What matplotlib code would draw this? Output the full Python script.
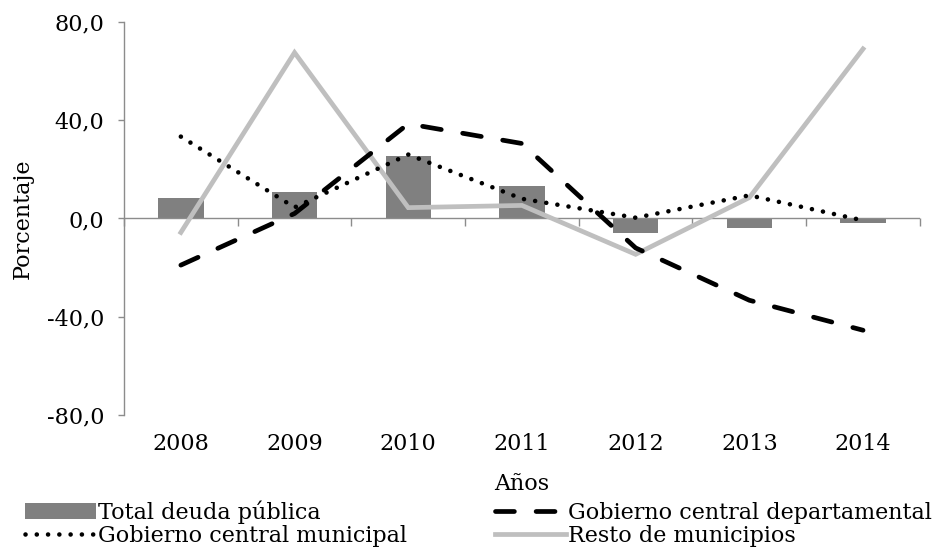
import matplotlib
matplotlib.use("Agg")
import matplotlib.pyplot as plt
from matplotlib.ticker import FuncFormatter
import numpy as np

# Datos (porcentaje)
anios = ["2008", "2009", "2010", "2011", "2012", "2013", "2014"]
total_deuda = [8.5, 10.6, 25.3, 13.4, -6.1, -3.7, -2.0]
gob_departamental = [-19.0, 2.0, 38.5, 30.5, -12.0, -33.3, -45.5]
gob_municipal = [33.3, 4.5, 26.0, 8.0, 0.3, 9.4, -0.8]
resto_municipios = [-5.7, 67.5, 4.4, 5.3, -14.6, 8.5, 69.0]

plt.rcParams["font.family"] = ["DejaVu Serif"]
plt.rcParams["font.size"] = 16

GRIS_EJE = "#8c8c8c"

fig = plt.figure(figsize=(9.43, 5.47), dpi=100)
ax = fig.add_axes([0.1315, 0.2413, 0.844, 0.7187])

x = np.arange(len(anios))
ax.bar(x, total_deuda, width=0.4, color="#808080", zorder=2,
       label="Total deuda pública")
ax.axhline(0, color=GRIS_EJE, lw=1.0, zorder=2.5)
ax.plot(x, resto_municipios, color="#bfbfbf", lw=3.4, zorder=3,
        solid_joinstyle="miter", label="Resto de municipios")
ax.plot(x, gob_departamental, color="black", lw=3.4, zorder=4,
        linestyle=(0, (4.0, 4.6)), dash_capstyle="round",
        label="Gobierno central departamental")
ax.plot(x, gob_municipal, color="black", lw=3.3, zorder=5,
        linestyle=(0, (0.01, 2.45)), dash_capstyle="round",
        label="Gobierno central municipal")

ax.set_xlim(-0.5, len(anios) - 0.5)
ax.set_ylim(-80, 80)
ax.set_yticks([-80, -40, 0, 40, 80])
ax.yaxis.set_major_formatter(FuncFormatter(lambda v, p: f"{v:.1f}".replace(".", ",")))
ax.set_xticks(x, anios)

for s in ["top", "right", "bottom"]:
    ax.spines[s].set_visible(False)
ax.spines["left"].set_color(GRIS_EJE)
ax.spines["left"].set_linewidth(1.0)

ax.tick_params(axis="y", direction="out", length=4.3, width=1.0,
               color=GRIS_EJE, pad=10)
ax.tick_params(axis="x", length=0, pad=13)

# marcas entre categorías sobre el eje en cero
sec = ax.secondary_xaxis(0.5)
for s in sec.spines.values():
    s.set_visible(False)
sec.set_xticks(np.arange(-0.5, len(anios), 1.0))
sec.xaxis.set_ticks_position("bottom")
sec.tick_params(axis="x", which="both", direction="out", length=5.4, width=1.0,
                color=GRIS_EJE, labelbottom=False, labeltop=False)

ax.set_ylabel("Porcentaje", labelpad=9)
ax.set_xlabel("Años", labelpad=13)

h, l = ax.get_legend_handles_labels()
orden = ["Total deuda pública", "Gobierno central municipal",
         "Gobierno central departamental", "Resto de municipios"]
hh = [h[l.index(o)] for o in orden]
fig.legend(hh, orden, ncol=2, loc="lower left", bbox_to_anchor=(0.012, -0.024),
           frameon=False, handlelength=3.2, handletextpad=0.1,
           columnspacing=3.95, labelspacing=0.05, borderaxespad=0.2)

fig.savefig("out.png", dpi=100)
